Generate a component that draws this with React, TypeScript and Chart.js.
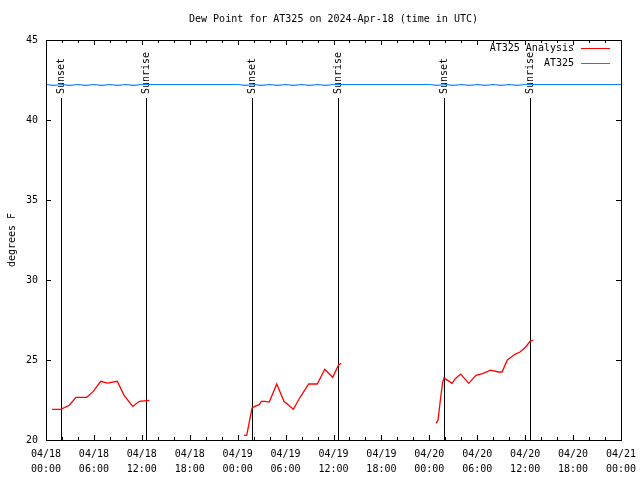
import React, { useEffect, useRef } from "react";
import { Chart, registerables } from "chart.js";

Chart.register(...registerables);

const titleText = "Dew Point for AT325 on 2024-Apr-18 (time in UTC)";
const yAxisLabel = "degrees F";
const seriesNames = ["AT325 Analysis", "AT325"];

// hours since 04/18 00:00 UTC
const analysisHours = [
  0.75, 1.84, 2.92, 3.76, 5.1, 5.92, 6.85, 7.68, 8.93, 9.77, 10.86, 11.68, 12.94,
  18.0,
  24.79, 25.13, 25.8, 26.21, 26.71, 26.96, 27.38, 27.96, 28.89, 29.8, 30.97, 31.81, 32.9, 33.97, 34.9, 35.9, 36.65, 36.98,
  42.0,
  48.84, 49.09, 49.42, 49.67, 49.84, 50.34, 50.84, 51.25, 51.93, 52.93, 53.84, 54.76, 55.68, 56.69, 57.1, 57.77, 58.77, 59.35, 60.1, 60.6, 61.02,
];
const analysisValues: (number | null)[] = [
  21.92, 21.92, 22.17, 22.67, 22.67, 23.04, 23.67, 23.56, 23.67, 22.79, 22.1, 22.42, 22.48,
  null,
  20.29, 20.29, 22.0, 22.12, 22.21, 22.42, 22.42, 22.37, 23.5, 22.42, 21.92, 22.67, 23.5, 23.5, 24.42, 23.92, 24.71, 24.79,
  null,
  21.04, 21.25, 22.67, 23.62, 23.87, 23.71, 23.54, 23.83, 24.12, 23.54, 24.04, 24.17, 24.37, 24.25, 24.25, 25.0, 25.37, 25.5, 25.83, 26.17, 26.25,
];

// hourly station values, hours 0..72
const stationValues = [
  42.22, 42.16, 42.22, 42.16, 42.22, 42.16, 42.22, 42.16, 42.22, 42.16, 42.22, 42.16, 42.22,
  42.22, 42.22, 42.22, 42.22, 42.22, 42.22, 42.22, 42.22, 42.22, 42.22, 42.22, 42.22,
  42.16, 42.22, 42.16, 42.22, 42.16, 42.22, 42.16, 42.22, 42.16, 42.22, 42.16, 42.22,
  42.22, 42.22, 42.22, 42.22, 42.22, 42.22, 42.22, 42.22, 42.22, 42.22, 42.22, 42.22,
  42.16, 42.22, 42.16, 42.22, 42.16, 42.22, 42.16, 42.22, 42.16, 42.22, 42.16, 42.22,
  42.22, 42.22, 42.22, 42.22, 42.22, 42.22, 42.22, 42.22, 42.22, 42.22, 42.22, 42.22,
];

const eventHours = [1.84, 12.55, 25.83, 36.6, 49.78, 60.55];
const eventLabels = ["Sunset", "Sunrise", "Sunset", "Sunrise", "Sunset", "Sunrise"];
const eventLineTop = 41.375;

const xTickHours = [0, 6, 12, 18, 24, 30, 36, 42, 48, 54, 60, 66, 72];
const xTickDates = ["04/18", "04/18", "04/18", "04/18", "04/19", "04/19", "04/19", "04/19", "04/20", "04/20", "04/20", "04/20", "04/21"];
const xTickTimes = ["00:00", "06:00", "12:00", "18:00", "00:00", "06:00", "12:00", "18:00", "00:00", "06:00", "12:00", "18:00", "00:00"];
const xMinorHours = [2, 4, 8, 10, 14, 16, 20, 22, 26, 28, 32, 34, 38, 40, 44, 46, 50, 52, 56, 58, 62, 64, 68, 70];
const yTicks = [20, 25, 30, 35, 40, 45];

const FONT = '10px "DejaVu Sans Mono", monospace';
const RED = "#ff0000";
const BLUE = "#0a84ff";

const overlay = {
  id: "overlay",
  beforeDatasetsDraw(chart: any) {
    const ctx = chart.ctx;
    const xs = chart.scales.x;
    const ys = chart.scales.y;
    ctx.save();
    ctx.strokeStyle = "#000";
    ctx.fillStyle = "#000";
    ctx.lineWidth = 1;
    ctx.font = FONT;
    eventHours.forEach((h, i) => {
      const px = Math.round(xs.getPixelForValue(h)) + 0.5;
      const yb = ys.getPixelForValue(20);
      const yt = ys.getPixelForValue(eventLineTop);
      ctx.beginPath();
      ctx.moveTo(px, yb);
      ctx.lineTo(px, yt);
      ctx.stroke();
      ctx.save();
      ctx.translate(px, yt - 4);
      ctx.rotate(-Math.PI / 2);
      ctx.textAlign = "left";
      ctx.textBaseline = "middle";
      ctx.fillText(eventLabels[i], 0, 0);
      ctx.restore();
    });
    ctx.restore();
  },
  afterDraw(chart: any) {
    const ctx = chart.ctx;
    const xs = chart.scales.x;
    const ys = chart.scales.y;
    const { left, right, top, bottom } = chart.chartArea;
    ctx.save();
    ctx.strokeStyle = "#000";
    ctx.fillStyle = "#000";
    ctx.lineWidth = 1;
    ctx.strokeRect(Math.round(left) + 0.5, Math.round(top) + 0.5, Math.round(right - left), Math.round(bottom - top));
    const tick = (x: number, len: number) => {
      const px = Math.round(x) + 0.5;
      ctx.beginPath();
      ctx.moveTo(px, bottom);
      ctx.lineTo(px, bottom - len);
      ctx.moveTo(px, top);
      ctx.lineTo(px, top + len);
      ctx.stroke();
    };
    xTickHours.forEach((h) => tick(xs.getPixelForValue(h), 5));
    xMinorHours.forEach((h) => tick(xs.getPixelForValue(h), 3));
    yTicks.forEach((v) => {
      const py = Math.round(ys.getPixelForValue(v)) + 0.5;
      ctx.beginPath();
      ctx.moveTo(left, py);
      ctx.lineTo(left + 5, py);
      ctx.moveTo(right, py);
      ctx.lineTo(right - 5, py);
      ctx.stroke();
    });
    ctx.font = FONT;
    ctx.textBaseline = "middle";
    ctx.textAlign = "right";
    yTicks.forEach((v) => {
      ctx.fillText(String(v), left - 8, ys.getPixelForValue(v));
    });
    ctx.textAlign = "center";
    xTickHours.forEach((h, i) => {
      const px = xs.getPixelForValue(h);
      ctx.fillText(xTickDates[i], px, bottom + 14);
      ctx.fillText(xTickTimes[i], px, bottom + 29);
    });
    // title
    ctx.fillText(titleText, (left + right) / 2, 19);
    // y label
    ctx.save();
    ctx.translate(12, (top + bottom) / 2);
    ctx.rotate(-Math.PI / 2);
    ctx.fillText(yAxisLabel, 0, 0);
    ctx.restore();
    // legend
    const colors = [RED, BLUE];
    seriesNames.forEach((name, i) => {
      const y = top + 8 + i * 15;
      ctx.fillStyle = "#000";
      ctx.textAlign = "right";
      ctx.fillText(name, right - 47, y);
      ctx.strokeStyle = colors[i];
      ctx.beginPath();
      ctx.moveTo(right - 40, Math.round(y) + 0.5);
      ctx.lineTo(right - 11, Math.round(y) + 0.5);
      ctx.stroke();
    });
    ctx.restore();
  },
};

export default function App() {
  const ref = useRef<HTMLCanvasElement | null>(null);
  useEffect(() => {
    document.body.style.margin = "0";
    if (!ref.current) return;
    const chart = new Chart(ref.current, {
      type: "line",
      data: {
        datasets: [
          {
            label: seriesNames[0],
            data: analysisHours.map((h, i) => ({ x: h, y: analysisValues[i] as any })),
            borderColor: RED,
            borderWidth: 1.3,
            pointRadius: 0,
            spanGaps: false,
            tension: 0,
          },
          {
            label: seriesNames[1],
            data: stationValues.map((v, i) => ({ x: i, y: v })),
            borderColor: BLUE,
            borderWidth: 1.2,
            pointRadius: 0,
            tension: 0,
          },
        ],
      },
      options: {
        responsive: false,
        animation: false,
        events: [],
        layout: { padding: { left: 46, right: 19, top: 40, bottom: 40 } },
        plugins: {
          legend: { display: false },
          title: { display: false },
          tooltip: { enabled: false },
        },
        scales: {
          x: { type: "linear", min: 0, max: 72, display: false },
          y: { type: "linear", min: 20, max: 45, display: false },
        },
      },
      plugins: [overlay],
    });
    return () => chart.destroy();
  }, []);
  return (
    <div style={{ width: 640, height: 480, background: "#fff" }}>
      <canvas ref={ref} width={640} height={480} />
    </div>
  );
}
